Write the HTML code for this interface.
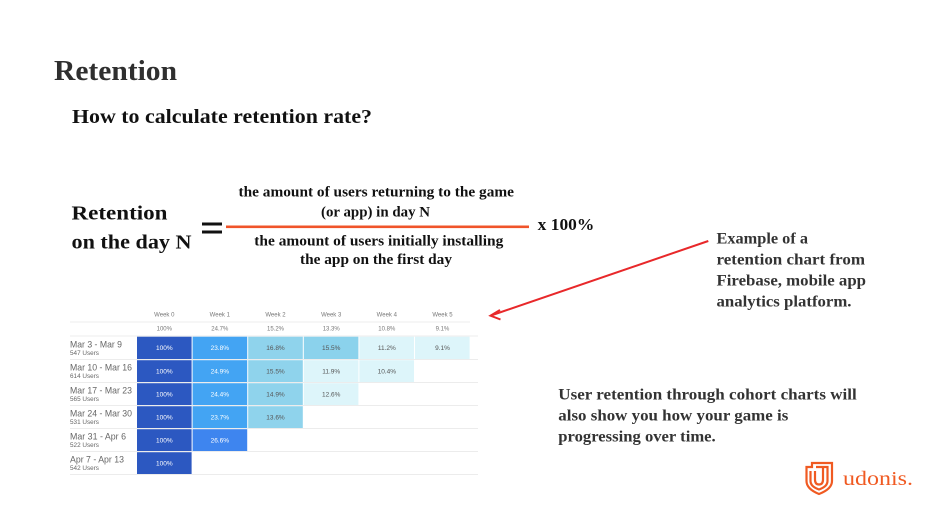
<!DOCTYPE html>
<html><head><meta charset="utf-8"><style>
html,body{margin:0;padding:0;background:#fff;}
svg{display:block;}
.s{font-family:"Liberation Serif",serif;font-weight:bold;}
.a{font-family:"Liberation Sans",sans-serif;}
</style></head><body>
<svg width="943" height="529" viewBox="0 0 943 529" xmlns="http://www.w3.org/2000/svg">
<rect width="943" height="529" fill="#fff"/>
<text class="s" x="54" y="80" font-size="28" fill="#2f2f2f" textLength="123" lengthAdjust="spacingAndGlyphs">Retention</text>
<text class="s" x="72" y="123" font-size="19.5" fill="#111" textLength="300" lengthAdjust="spacingAndGlyphs">How to calculate retention rate?</text>

<text class="s" x="71.5" y="219.3" font-size="20.5" fill="#111" textLength="96" lengthAdjust="spacingAndGlyphs">Retention</text>
<text class="s" x="71.5" y="248.3" font-size="20.5" fill="#111" textLength="120" lengthAdjust="spacingAndGlyphs">on the day N</text>
<rect x="202" y="222.5" width="20" height="3" fill="#111"/>
<rect x="202" y="230.5" width="20" height="3" fill="#111"/>
<rect x="226" y="225.5" width="303" height="2.6" fill="#f0542a"/>

<text class="s" x="238.5" y="196.7" font-size="15" fill="#111" textLength="275.5" lengthAdjust="spacingAndGlyphs">the amount of users returning to the game</text>
<text class="s" x="321" y="216.7" font-size="15" fill="#111" textLength="109" lengthAdjust="spacingAndGlyphs">(or app) in day N</text>
<text class="s" x="254.3" y="245.7" font-size="15" fill="#111" textLength="249" lengthAdjust="spacingAndGlyphs">the amount of users initially installing</text>
<text class="s" x="300" y="264" font-size="15" fill="#111" textLength="152" lengthAdjust="spacingAndGlyphs">the app on the first day</text>
<text class="s" x="537.7" y="230" font-size="17" fill="#111" textLength="56.6" lengthAdjust="spacingAndGlyphs">x 100%</text>

<text class="s" x="716.5" y="243.3" font-size="16" fill="#333" textLength="91.5" lengthAdjust="spacingAndGlyphs">Example of a</text>
<text class="s" x="716.5" y="264.5" font-size="16" fill="#333" textLength="148.5" lengthAdjust="spacingAndGlyphs">retention chart from</text>
<text class="s" x="716.5" y="285.5" font-size="16" fill="#333" textLength="149.5" lengthAdjust="spacingAndGlyphs">Firebase, mobile app</text>
<text class="s" x="716.5" y="306.5" font-size="16" fill="#333" textLength="135" lengthAdjust="spacingAndGlyphs">analytics platform.</text>

<line x1="708.3" y1="241" x2="491" y2="315.5" stroke="#e8282a" stroke-width="2"/>
<polyline points="500,310 490.5,315.7 500.5,319.5" fill="none" stroke="#e8282a" stroke-width="2" stroke-linejoin="miter"/>

<text class="s" x="558.3" y="399.3" font-size="16" fill="#333" textLength="298.4" lengthAdjust="spacingAndGlyphs">User retention through cohort charts will</text>
<text class="s" x="558.3" y="420.5" font-size="16" fill="#333" textLength="230" lengthAdjust="spacingAndGlyphs">also show you how your game is</text>
<text class="s" x="558.3" y="441.5" font-size="16" fill="#333" textLength="157.4" lengthAdjust="spacingAndGlyphs">progressing over time.</text>

<!-- table -->
<g class="a" font-size="6" fill="#777" text-anchor="middle">
<text x="164.3" y="316.7">Week 0</text>
<text x="219.8" y="316.7">Week 1</text>
<text x="275.5" y="316.7">Week 2</text>
<text x="331.2" y="316.7">Week 3</text>
<text x="386.8" y="316.7">Week 4</text>
<text x="442.5" y="316.7">Week 5</text>
<text x="164.3" y="330.7">100%</text>
<text x="219.8" y="330.7">24.7%</text>
<text x="275.5" y="330.7">15.2%</text>
<text x="331.2" y="330.7">13.3%</text>
<text x="386.8" y="330.7">10.8%</text>
<text x="442.5" y="330.7">9.1%</text>
</g>
<g stroke="#e6e6e6" stroke-width="0.8">
<line x1="70" y1="322" x2="470" y2="322"/>
<line x1="70" y1="336" x2="478" y2="336"/>
<line x1="70" y1="359.5" x2="478" y2="359.5"/>
<line x1="70" y1="382.5" x2="478" y2="382.5"/>
<line x1="70" y1="405.5" x2="478" y2="405.5"/>
<line x1="70" y1="428.5" x2="478" y2="428.5"/>
<line x1="70" y1="451.5" x2="478" y2="451.5"/>
<line x1="70" y1="474.5" x2="478" y2="474.5"/>
</g>
<!-- cells -->
<g>
<rect x="137" y="336.7" width="54.6" height="22.3" fill="#2c58c1"/>
<rect x="192.6" y="336.7" width="54.6" height="22.3" fill="#43a4f3"/>
<rect x="248.2" y="336.7" width="54.6" height="22.3" fill="#8fd3ec"/>
<rect x="303.8" y="336.7" width="54.6" height="22.3" fill="#8bd2ec"/>
<rect x="359.4" y="336.7" width="54.6" height="22.3" fill="#ddf5fa"/>
<rect x="415" y="336.7" width="54.6" height="22.3" fill="#ddf5fa"/>

<rect x="137" y="360.2" width="54.6" height="21.8" fill="#2c58c1"/>
<rect x="192.6" y="360.2" width="54.6" height="21.8" fill="#43a4f3"/>
<rect x="248.2" y="360.2" width="54.6" height="21.8" fill="#8fd3ec"/>
<rect x="303.8" y="360.2" width="54.6" height="21.8" fill="#ddf5fa"/>
<rect x="359.4" y="360.2" width="54.6" height="21.8" fill="#ddf5fa"/>

<rect x="137" y="383.2" width="54.6" height="21.8" fill="#2c58c1"/>
<rect x="192.6" y="383.2" width="54.6" height="21.8" fill="#43a4f3"/>
<rect x="248.2" y="383.2" width="54.6" height="21.8" fill="#8fd3ec"/>
<rect x="303.8" y="383.2" width="54.6" height="21.8" fill="#ddf5fa"/>

<rect x="137" y="406.2" width="54.6" height="21.8" fill="#2c58c1"/>
<rect x="192.6" y="406.2" width="54.6" height="21.8" fill="#43a4f3"/>
<rect x="248.2" y="406.2" width="54.6" height="21.8" fill="#8fd3ec"/>

<rect x="137" y="429.2" width="54.6" height="21.8" fill="#2c58c1"/>
<rect x="192.6" y="429.2" width="54.6" height="21.8" fill="#3e85ef"/>

<rect x="137" y="452.2" width="54.6" height="21.8" fill="#2c58c1"/>
</g>
<g class="a" font-size="6.5" text-anchor="middle">
<g fill="#fff">
<text x="164.3" y="350">100%</text><text x="219.8" y="350">23.8%</text>
<text x="164.3" y="373.3">100%</text><text x="219.8" y="373.3">24.9%</text>
<text x="164.3" y="396.3">100%</text><text x="219.8" y="396.3">24.4%</text>
<text x="164.3" y="419.3">100%</text><text x="219.8" y="419.3">23.7%</text>
<text x="164.3" y="442.3">100%</text><text x="219.8" y="442.3">26.6%</text>
<text x="164.3" y="465.3">100%</text>
</g>
<g fill="#555">
<text x="275.5" y="350">16.8%</text><text x="331.2" y="350">15.5%</text><text x="386.8" y="350">11.2%</text><text x="442.5" y="350">9.1%</text>
<text x="275.5" y="373.3">15.5%</text><text x="331.2" y="373.3">11.9%</text><text x="386.8" y="373.3">10.4%</text>
<text x="275.5" y="396.3">14.9%</text><text x="331.2" y="396.3">12.6%</text>
<text x="275.5" y="419.3">13.6%</text>
</g>
</g>
<g class="a" fill="#666">
<text x="70" y="347.3" font-size="9.3" textLength="52" lengthAdjust="spacingAndGlyphs">Mar 3 - Mar 9</text>
<text x="70" y="355" font-size="6.6" textLength="29" lengthAdjust="spacingAndGlyphs">547 Users</text>
<text x="70" y="370.3" font-size="9.3" textLength="62" lengthAdjust="spacingAndGlyphs">Mar 10 - Mar 16</text>
<text x="70" y="378" font-size="6.6" textLength="29" lengthAdjust="spacingAndGlyphs">614 Users</text>
<text x="70" y="393.3" font-size="9.3" textLength="62" lengthAdjust="spacingAndGlyphs">Mar 17 - Mar 23</text>
<text x="70" y="401" font-size="6.6" textLength="29" lengthAdjust="spacingAndGlyphs">565 Users</text>
<text x="70" y="416.3" font-size="9.3" textLength="62" lengthAdjust="spacingAndGlyphs">Mar 24 - Mar 30</text>
<text x="70" y="424" font-size="6.6" textLength="29" lengthAdjust="spacingAndGlyphs">531 Users</text>
<text x="70" y="439.3" font-size="9.3" textLength="56" lengthAdjust="spacingAndGlyphs">Mar 31 - Apr 6</text>
<text x="70" y="447" font-size="6.6" textLength="29" lengthAdjust="spacingAndGlyphs">522 Users</text>
<text x="70" y="462.3" font-size="9.3" textLength="54" lengthAdjust="spacingAndGlyphs">Apr 7 - Apr 13</text>
<text x="70" y="470" font-size="6.6" textLength="29" lengthAdjust="spacingAndGlyphs">542 Users</text>
</g>

<!-- logo -->
<g fill="none" stroke="#f05a22" stroke-width="2.2" stroke-linejoin="miter">
<path d="M806.5 467 H812 V463 H832 V481 Q832 489 819 494 Q806.5 489 806.5 481 Z"/>
<path d="M810.5 471 V481 Q810.5 486.5 819 489.5 Q827.5 486.5 827.5 481 V467 H816"/>
<path d="M815 471 V479.5 Q815 484.5 819 484.5 Q823 484.5 823 479.5 V467"/>
</g>
<text x="843" y="485" font-family="Liberation Serif, serif" font-size="20" fill="#f05a22" textLength="70" lengthAdjust="spacingAndGlyphs">udonis.</text>
</svg>
</body></html>
